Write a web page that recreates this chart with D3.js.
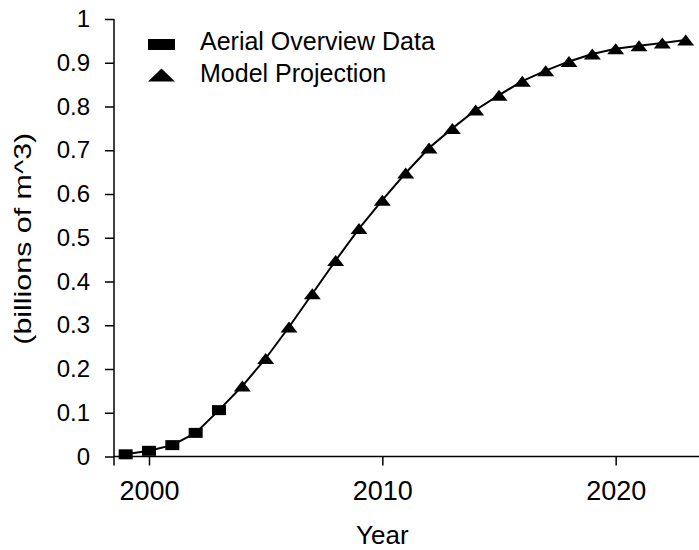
<!DOCTYPE html>
<html>
<head>
<meta charset="utf-8">
<script src="https://cdn.jsdelivr.net/npm/d3@7"></script>
<style>
  body { margin: 0; background: #fff; }
  text { font-family: "Liberation Sans", Arial, sans-serif; fill: #000; }
</style>
</head>
<body>
<svg id="chart" width="699" height="550"></svg>
<script>
// measured (aerial overview) and projected volumes, billions of m^3
const aerialYears = [1999, 2000, 2001, 2002, 2003];
const aerialValues = [0.005, 0.013, 0.026, 0.054, 0.106];
const modelYears = [2004, 2005, 2006, 2007, 2008, 2009, 2010, 2011, 2012, 2013,
                    2014, 2015, 2016, 2017, 2018, 2019, 2020, 2021, 2022, 2023];
const modelValues = [0.161, 0.224, 0.296, 0.372, 0.448, 0.521, 0.586, 0.648, 0.705, 0.750,
                     0.792, 0.826, 0.858, 0.882, 0.903, 0.920, 0.932, 0.939, 0.945, 0.952];
const xTicks = [2000, 2010, 2020];
const yTicks = [0, 0.1, 0.2, 0.3, 0.4, 0.5, 0.6, 0.7, 0.8, 0.9, 1];
const legendLabels = ['Aerial Overview Data', 'Model Projection'];

const svg = d3.select('#chart');
const tick = 9;

const x = d3.scaleLinear().domain([1998.5, 2023.7]).range([114, 702]);
const y = d3.scaleLinear().domain([0, 1]).range([456.5, 19]);

const aerial = aerialYears.map((yr, i) => ({ year: yr, value: aerialValues[i] }));
const model = modelYears.map((yr, i) => ({ year: yr, value: modelValues[i] }));

// y axis
const yAxis = svg.append('g')
  .attr('transform', `translate(${x.range()[0]},0)`)
  .call(d3.axisLeft(y).tickValues(yTicks).tickSize(tick).tickSizeOuter(0)
    .tickPadding(15).tickFormat(d3.format('~g')));
yAxis.select('.domain').remove();
yAxis.selectAll('line').attr('stroke', '#000').attr('stroke-width', 1.5);
yAxis.selectAll('text').attr('font-size', 24).attr('font-family', null);

// x axis
const xAxis = svg.append('g')
  .attr('transform', `translate(0,${y(0)})`)
  .call(d3.axisBottom(x).tickValues(xTicks).tickSize(tick).tickSizeOuter(0)
    .tickPadding(15).tickFormat(d3.format('d')));
xAxis.select('.domain').remove();
xAxis.selectAll('line').attr('stroke', '#000').attr('stroke-width', 1.5);
xAxis.selectAll('text').attr('font-size', 27).attr('font-family', null);

// axis lines (vertical one runs a little below the x axis)
svg.append('line')
  .attr('x1', x.range()[0]).attr('x2', x.range()[0])
  .attr('y1', y(1)).attr('y2', y(0) + tick)
  .attr('stroke', '#000').attr('stroke-width', 1.5);
svg.append('line')
  .attr('x1', x.range()[0]).attr('x2', x.range()[1])
  .attr('y1', y(0)).attr('y2', y(0))
  .attr('stroke', '#000').attr('stroke-width', 1.5);

// axis titles
svg.append('text')
  .attr('x', x(2010)).attr('y', 544)
  .attr('text-anchor', 'middle').attr('font-size', 26)
  .text('Year');
svg.append('text')
  .attr('transform', `translate(31,${(y(0) + y(1)) / 2 + 1}) rotate(-90)`)
  .attr('text-anchor', 'middle').attr('font-size', 24)
  .attr('textLength', 212).attr('lengthAdjust', 'spacingAndGlyphs')
  .text('(billions of m^3)');

// curve through all points
const line = d3.line().x(d => x(d.year)).y(d => y(d.value));
svg.append('path')
  .datum(aerial.concat(model))
  .attr('fill', 'none').attr('stroke', '#000').attr('stroke-width', 2)
  .attr('d', line);

// markers
const tri = (cx, cy, w, h) => `M${cx - w / 2},${cy + h / 2}L${cx},${cy - h / 2}L${cx + w / 2},${cy + h / 2}Z`;

svg.append('g').selectAll('rect')
  .data(aerial)
  .join('rect')
  .attr('x', d => x(d.year) - 7).attr('y', d => y(d.value) - 5)
  .attr('width', 14).attr('height', 10)
  .attr('fill', '#000');

svg.append('g').selectAll('path')
  .data(model)
  .join('path')
  .attr('d', d => tri(x(d.year), y(d.value), 17, 11))
  .attr('fill', '#000');

// legend
const legend = svg.append('g').attr('transform', 'translate(148,0)');
legend.append('rect')
  .attr('x', 0).attr('y', 39).attr('width', 27).attr('height', 11)
  .attr('fill', '#000');
legend.append('path')
  .attr('d', tri(13.5, 75, 27, 13))
  .attr('fill', '#000');
legend.selectAll('text')
  .data(legendLabels)
  .join('text')
  .attr('x', 52).attr('y', (d, i) => 50 + i * 32)
  .attr('font-size', 25)
  .text(d => d);
</script>
</body>
</html>
